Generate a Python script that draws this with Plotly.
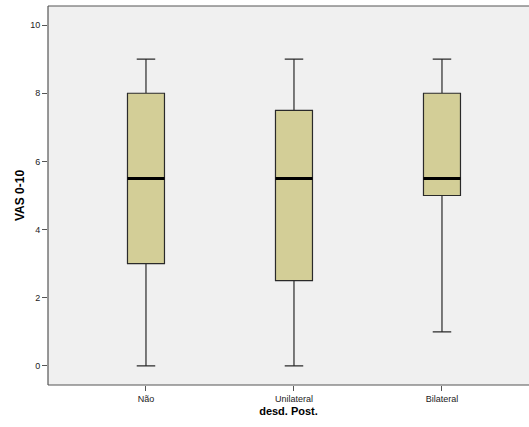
import plotly.graph_objects as go

categories = ["Não", "Unilateral", "Bilateral"]
lower = [0, 0, 1]
q1 = [3, 2.5, 5]
median = [5.5, 5.5, 5.5]
q3 = [8, 7.5, 8]
upper = [9, 9, 9]
yticks = [0, 2, 4, 6, 8, 10]

pos = list(range(len(categories)))
BW = 0.25

fig = go.Figure()
fig.add_trace(go.Box(
    x=pos, q1=q1, median=median, q3=q3, lowerfence=lower, upperfence=upper,
    width=BW, whiskerwidth=0.5,
    fillcolor="#D3CE97", line=dict(color="#2a2a2a", width=1.2),
    boxpoints=False, hoverinfo="skip", showlegend=False,
))
for p, m in zip(pos, median):
    fig.add_trace(go.Scatter(
        x=[p - BW / 2, p + BW / 2], y=[m, m], mode="lines",
        line=dict(color="black", width=3), showlegend=False, hoverinfo="skip",
    ))

font = "Liberation Sans, Arial, sans-serif"
border = dict(color="#555", width=1.2)
fig.update_layout(
    width=529, height=427,
    margin=dict(l=48, r=0, t=6, b=42),
    paper_bgcolor="white", plot_bgcolor="#F0F0F0",
    font=dict(family=font, size=9, color="#222"),
    xaxis=dict(
        range=[-0.662, 2.588], tickmode="array", tickvals=pos, ticktext=categories,
        showgrid=False, zeroline=False, showline=False,
        ticks="outside", ticklen=5, tickcolor="#555",
        tickfont=dict(size=9, color="#222"),
        title=dict(text="<b>desd. Post.</b>", font=dict(size=11, color="black"), standoff=4),
    ),
    yaxis=dict(
        range=[-0.56, 10.56], tickmode="array", tickvals=yticks,
        showgrid=False, zeroline=False, showline=False,
        ticks="outside", ticklen=5, tickcolor="#555",
        tickfont=dict(size=9, color="#222"),
        title=dict(text="<b>VAS 0-10</b>", font=dict(size=12, color="black"), standoff=2),
    ),
    shapes=[
        dict(type="line", xref="paper", yref="paper", x0=0, x1=0, y0=0, y1=1, line=border, layer="above"),
        dict(type="line", xref="paper", yref="paper", x0=0, x1=1, y0=0, y1=0, line=border, layer="above"),
        dict(type="line", xref="paper", yref="paper", x0=0, x1=1, y0=1, y1=1, line=border, layer="above"),
    ],
)
fig.write_html("out.html", config={"displayModeBar": False})
